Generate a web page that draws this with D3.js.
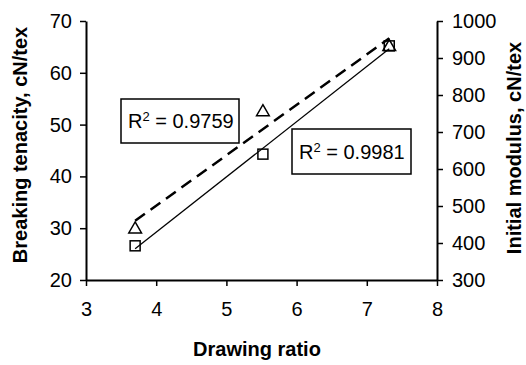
<!DOCTYPE html>
<html>
<head>
<meta charset="utf-8">
<script src="https://cdn.jsdelivr.net/npm/d3@7"></script>
<style>
body { margin: 0; background: #fff; }
svg text { font-family: "Liberation Sans", Arial, sans-serif; fill: #000; }
</style>
</head>
<body>
<svg id="chart" width="526" height="365"></svg>
<script>
// data
var drawRatio = [3.7, 5.52, 7.32];
var tenacity = [26.6, 44.3, 65.2];
var modulus = [437, 754, 930];
var xTicks = [3, 4, 5, 6, 7, 8];
var leftTicks = [20, 30, 40, 50, 60, 70];
var rightTicks = [300, 400, 500, 600, 700, 800, 900, 1000];
var r2Labels = ["0.9759", "0.9981"];

var svg = d3.select('#chart');
var plotLeft = 86, plotRight = 437, plotTop = 21, plotBottom = 280;

var x = d3.scaleLinear().domain([3, 8]).range([plotLeft, plotRight]);
var yL = d3.scaleLinear().domain([20, 70]).range([plotBottom, plotTop]);
var yR = d3.scaleLinear().domain([300, 1000]).range([plotBottom, plotTop]);

function fit(xs, ys) {
    var mx = d3.mean(xs), my = d3.mean(ys);
    var sxy = d3.sum(xs, function(d, i) { return (d - mx) * (ys[i] - my); });
    var sxx = d3.sum(xs, function(d) { return (d - mx) * (d - mx); });
    var b = sxy / sxx;
    return function(v) { return my + b * (v - mx); };
}

function styleAxis(g) {
    g.selectAll('.domain').attr('stroke', '#000').attr('stroke-width', 2);
    g.selectAll('.tick line').attr('stroke', '#000').attr('stroke-width', 1.5);
    g.selectAll('.tick text').attr('font-size', 20).attr('font-family', '"Liberation Sans", Arial, sans-serif');
}

// axes
var gx = svg.append('g').attr('transform', 'translate(0,' + plotBottom + ')')
    .call(d3.axisBottom(x).tickValues(xTicks).tickFormat(d3.format('d'))
        .tickSize(6).tickSizeOuter(0).tickPadding(16));
styleAxis(gx);

var gl = svg.append('g').attr('transform', 'translate(' + plotLeft + ',0)')
    .call(d3.axisLeft(yL).tickValues(leftTicks).tickFormat(d3.format('d'))
        .tickSize(6).tickSizeOuter(0).tickPadding(8));
styleAxis(gl);

var gr = svg.append('g').attr('transform', 'translate(' + plotRight + ',0)')
    .call(d3.axisRight(yR).tickValues(rightTicks).tickFormat(d3.format('d'))
        .tickSize(6).tickSizeOuter(0).tickPadding(9));
styleAxis(gr);

// trend lines
var fT = fit(drawRatio, tenacity);
var fM = fit(drawRatio, modulus);
var x0 = d3.min(drawRatio), x1 = d3.max(drawRatio);

svg.append('line')
    .attr('x1', x(x0)).attr('y1', yL(fT(x0)))
    .attr('x2', x(x1)).attr('y2', yL(fT(x1)))
    .attr('stroke', '#000').attr('stroke-width', 1.3);

svg.append('line')
    .attr('x1', x(x0)).attr('y1', yR(fM(x0)))
    .attr('x2', x(x1)).attr('y2', yR(fM(x1)))
    .attr('stroke', '#000').attr('stroke-width', 2.5)
    .attr('stroke-dasharray', '12,7');

// markers
svg.selectAll('rect.sq').data(drawRatio).enter()
    .append('rect').attr('class', 'sq')
    .attr('x', function(d) { return x(d) - 5; })
    .attr('y', function(d, i) { return yL(tenacity[i]) - 5; })
    .attr('width', 10).attr('height', 10)
    .attr('fill', 'none').attr('stroke', '#000').attr('stroke-width', 1.5);

var tri = d3.symbol().type(d3.symbolTriangle).size(70);
svg.selectAll('path.tri').data(drawRatio).enter()
    .append('path').attr('class', 'tri')
    .attr('d', tri)
    .attr('transform', function(d, i) { return 'translate(' + x(d) + ',' + yR(modulus[i]) + ')'; })
    .attr('fill', 'none').attr('stroke', '#000').attr('stroke-width', 1.5);

// R² boxes
var boxes = [
    { x: 121, y: 99, w: 118, h: 44 },
    { x: 292, y: 129, w: 119, h: 45 }
];
boxes.forEach(function(b, i) {
    svg.append('rect')
        .attr('x', b.x).attr('y', b.y).attr('width', b.w).attr('height', b.h)
        .attr('fill', '#fff').attr('stroke', '#000').attr('stroke-width', 1.5);
    var t = svg.append('text')
        .attr('x', b.x + 7).attr('y', b.y + b.h / 2 + 7)
        .attr('font-size', 20);
    t.append('tspan').text('R');
    t.append('tspan').attr('font-size', 13).attr('dy', -7).text('2');
    t.append('tspan').attr('dy', 7).text(' = ' + r2Labels[i]);
});

// axis titles
svg.append('text')
    .attr('x', 257).attr('y', 356)
    .attr('text-anchor', 'middle')
    .attr('font-size', 20).attr('font-weight', 'bold')
    .text('Drawing ratio');

svg.append('text')
    .attr('transform', 'translate(27,145) rotate(-90)')
    .attr('text-anchor', 'middle')
    .attr('font-size', 20).attr('font-weight', 'bold')
    .text('Breaking tenacity, cN/tex');

svg.append('text')
    .attr('transform', 'translate(521,148) rotate(-90)')
    .attr('text-anchor', 'middle')
    .attr('font-size', 20).attr('font-weight', 'bold')
    .text('Initial modulus, cN/tex');
</script>
</body>
</html>
